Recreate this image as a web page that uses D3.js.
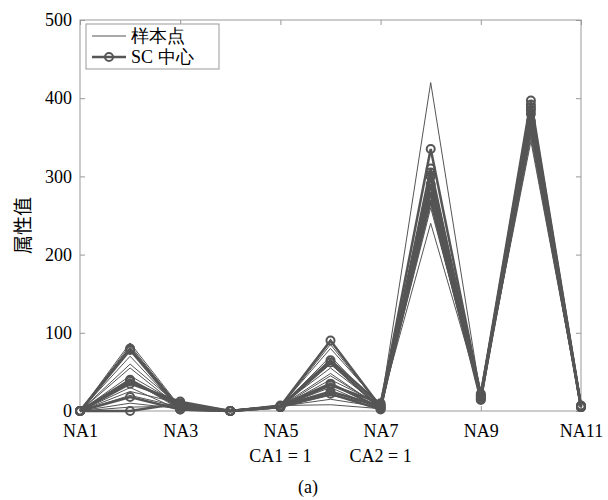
<!DOCTYPE html>
<html>
<head>
<meta charset="utf-8">
<script src="https://cdn.jsdelivr.net/npm/d3@7"></script>
<style>
  body { margin: 0; background: #fff; }
  svg { display: block; }
</style>
</head>
<body>
<svg id="chart"></svg>
<script>
// variables on the x axis
const vars = ["NA1", "NA2", "NA3", "NA4", "NA5", "NA6", "NA7", "NA8", "NA9", "NA10", "NA11"];
const tickVars = ["NA1", "NA3", "NA5", "NA7", "NA9", "NA11"];
const yTicks = [0, 100, 200, 300, 400, 500];

// thin lines: sample points
const samples = [
    [0, 87, 5, 0, 5, 85, 5, 420, 18, 385, 5],
    [0, 84, 3, 0, 6, 80, 8, 240, 20, 345, 6],
    [0, 70, 2, 0, 5, 70, 3, 290, 15, 360, 5],
    [0, 60, 6, 0, 7, 55, 6, 280, 22, 375, 7],
    [0, 55, 4, 0, 6, 48, 4, 300, 17, 390, 6],
    [0, 45, 8, 0, 5, 40, 9, 265, 14, 355, 5],
    [0, 30, 1, 0, 6, 30, 2, 310, 19, 380, 6],
    [0, 25, 10, 0, 5, 20, 7, 275, 21, 370, 5],
    [0, 10, 3, 0, 6, 15, 5, 285, 16, 395, 6],
    [0, 5, 6, 0, 7, 8, 3, 295, 18, 365, 7],
    [0, 40, 2, 0, 5, 45, 6, 260, 20, 350, 5],
    [0, 20, 5, 0, 6, 60, 4, 305, 15, 385, 6]
];

// thick lines with circles: SC centers
const centers = [
    [0, 80, 3, 0, 6, 90, 5, 300, 18, 392, 6],
    [0, 78, 2, 0, 6, 65, 8, 335, 20, 397, 6],
    [0, 40, 5, 0, 5, 62, 3, 310, 15, 388, 5],
    [0, 35, 12, 0, 5, 33, 10, 290, 22, 370, 5],
    [0, 38, 8, 0, 7, 35, 4, 280, 17, 362, 7],
    [0, 18, 2, 0, 6, 25, 6, 270, 14, 385, 6],
    [0, 0, 10, 0, 5, 22, 2, 305, 20, 380, 5]
];

const width = 608;
const height = 500;
const margin = { top: 20, left: 80, bottom: 89, right: 27 };
const innerWidth = width - margin.left - margin.right;
const innerHeight = height - margin.top - margin.bottom;
const lineColor = "#555";
const axisColor = "#999";
const serif = "Liberation Serif";

const svg = d3.select("#chart")
    .attr("width", width)
    .attr("height", height);

const x = d3.scalePoint().domain(vars).range([0, innerWidth]);
const y = d3.scaleLinear().domain([0, 500]).range([innerHeight, 0]);

const g = svg.append("g")
    .attr("transform", "translate(" + margin.left + "," + margin.top + ")");

// box
g.append("rect")
    .attr("width", innerWidth)
    .attr("height", innerHeight)
    .attr("fill", "none")
    .attr("stroke", axisColor);

const styleAxis = sel => {
    sel.attr("font-family", serif).attr("font-size", 18);
    sel.select(".domain").remove();
    sel.selectAll(".tick line").attr("stroke", axisColor);
    sel.selectAll("text").attr("fill", "#000");
};

g.append("g")
    .attr("transform", "translate(0," + innerHeight + ")")
    .call(d3.axisBottom(x).tickValues(tickVars).tickSizeInner(-5).tickPadding(13))
    .call(styleAxis);

// mirrored ticks on top and right, no labels
g.append("g")
    .call(d3.axisTop(x).tickValues(tickVars).tickSizeInner(-5))
    .call(styleAxis)
    .selectAll("text").remove();

g.append("g")
    .call(d3.axisLeft(y).tickValues(yTicks).tickSizeInner(-5).tickPadding(8))
    .call(styleAxis);

g.append("g")
    .attr("transform", "translate(" + innerWidth + ",0)")
    .call(d3.axisRight(y).tickValues(yTicks).tickSizeInner(-5))
    .call(styleAxis)
    .selectAll("text").remove();

// extra labels below NA5 / NA7
const catLabels = [["NA5", "CA1 = 1"], ["NA7", "CA2 = 1"]];
g.selectAll(".cat")
    .data(catLabels)
    .enter()
    .append("text")
    .attr("x", d => x(d[0]))
    .attr("y", innerHeight + 51)
    .attr("text-anchor", "middle")
    .attr("font-family", serif)
    .attr("font-size", 18)
    .attr("fill", "#000")
    .text(d => d[1]);

svg.append("text")
    .attr("x", width / 2 + 4)
    .attr("y", 493)
    .attr("text-anchor", "middle")
    .attr("font-family", serif)
    .attr("font-size", 18)
    .attr("fill", "#000")
    .text("(a)");

svg.append("text")
    .attr("transform", "translate(30," + (margin.top + innerHeight / 2 + 10) + ") rotate(-90)")
    .attr("text-anchor", "middle")
    .attr("font-family", "Noto Sans CJK SC")
    .attr("font-size", 19)
    .attr("fill", "#000")
    .text("属性值");

const line = d3.line()
    .x((d, i) => x(vars[i]))
    .y(d => y(d));

g.selectAll(".sample")
    .data(samples)
    .enter()
    .append("path")
    .attr("class", "sample")
    .attr("d", line)
    .attr("fill", "none")
    .attr("stroke", lineColor)
    .attr("stroke-width", 1);

g.selectAll(".center")
    .data(centers)
    .enter()
    .append("path")
    .attr("class", "center")
    .attr("d", line)
    .attr("fill", "none")
    .attr("stroke", lineColor)
    .attr("stroke-width", 2.5);

centers.forEach(row => {
    g.append("g").selectAll("circle")
        .data(row)
        .enter()
        .append("circle")
        .attr("cx", (d, i) => x(vars[i]))
        .attr("cy", d => y(d))
        .attr("r", 4)
        .attr("fill", "none")
        .attr("stroke", lineColor)
        .attr("stroke-width", 2);
});

// legend
const legend = svg.append("g").attr("transform", "translate(86,24)");
legend.append("rect")
    .attr("width", 133)
    .attr("height", 45)
    .attr("fill", "#fff")
    .attr("stroke", axisColor);
legend.append("line")
    .attr("x1", 6).attr("x2", 40).attr("y1", 12).attr("y2", 12)
    .attr("stroke", lineColor).attr("stroke-width", 1);
legend.append("text")
    .attr("x", 45).attr("y", 18)
    .attr("font-family", serif)
    .attr("font-size", 18)
    .attr("fill", "#000")
    .text("样本点");
legend.append("line")
    .attr("x1", 6).attr("x2", 40).attr("y1", 33).attr("y2", 33)
    .attr("stroke", lineColor).attr("stroke-width", 2.5);
legend.append("circle")
    .attr("cx", 23).attr("cy", 33).attr("r", 4)
    .attr("fill", "none").attr("stroke", lineColor).attr("stroke-width", 2);
legend.append("text")
    .attr("x", 45).attr("y", 39)
    .attr("font-family", serif)
    .attr("font-size", 18)
    .attr("fill", "#000")
    .text("SC 中心");
</script>
</body>
</html>
